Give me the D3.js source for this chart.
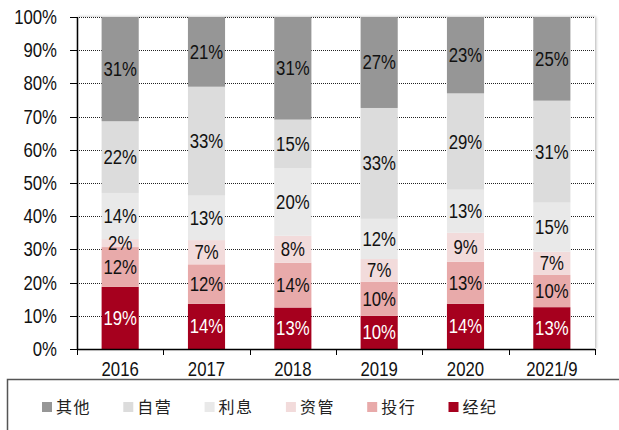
<!DOCTYPE html>
<html>
<head>
<meta charset="utf-8">
<script src="https://cdn.jsdelivr.net/npm/d3@7"></script>
<style>
  body { margin: 0; background: #fff; }
  svg { display: block; }
</style>
</head>
<body>
<svg id="chart" width="619" height="430"></svg>
<script>
const years = ['2016', '2017', '2018', '2019', '2020', '2021/9'];
// shares in %, bottom to top
const jingji = [18.7, 13.6, 12.5, 10.0, 13.6, 12.6];  // 经纪
const touhang = [12.0, 11.9, 13.5, 10.3, 12.7, 9.7];  // 投行
const ziguan = [2.4, 7.3, 8.1, 6.8, 8.7, 7.0];        // 资管
const lixi = [13.9, 13.4, 20.4, 12.1, 13.0, 14.8];    // 利息
const ziying = [21.6, 32.8, 14.6, 33.4, 29.0, 30.7];  // 自营
const qita = [31.4, 21.0, 30.9, 27.4, 23.0, 25.2];    // 其他
const yTicks = [0, 10, 20, 30, 40, 50, 60, 70, 80, 90, 100];

const series = [
  { name: '经纪', values: jingji, color: '#a6001e', text: '#fff' },
  { name: '投行', values: touhang, color: '#e8aaaa', text: '#111' },
  { name: '资管', values: ziguan, color: '#f2dbdb', text: '#111' },
  { name: '利息', values: lixi, color: '#e9e9e9', text: '#111' },
  { name: '自营', values: ziying, color: '#dcdcdc', text: '#111' },
  { name: '其他', values: qita, color: '#969696', text: '#111' }
];
const legendOrder = ['其他', '自营', '利息', '资管', '投行', '经纪'];

const plotLeft = 77, plotRight = 595, plotTop = 17, plotBottom = 349;
const font = 'Arial, "Liberation Sans", sans-serif';
const sx = 0.86; // text looks horizontally squeezed

const svg = d3.select('#chart');

const defs = svg.append('defs');
const shadow = defs.append('filter').attr('id', 'shadow')
  .attr('x', '-5%').attr('y', '-5%').attr('width', '110%').attr('height', '110%');
shadow.append('feDropShadow')
  .attr('dx', 1).attr('dy', 0).attr('stdDeviation', 1.5)
  .attr('flood-color', '#000').attr('flood-opacity', 0.3);

const x = d3.scaleBand().domain(years).range([plotLeft, plotRight])
  .paddingInner(0.57).paddingOuter(0.285);
const y = d3.scaleLinear().domain([0, 100]).range([plotBottom, plotTop]);

// plot area with soft shadow
svg.append('rect')
  .attr('x', plotLeft).attr('y', plotTop)
  .attr('width', plotRight - plotLeft).attr('height', plotBottom - plotTop)
  .attr('fill', '#fff')
  .attr('filter', 'url(#shadow)');

// gridlines
svg.append('g')
  .selectAll('line')
  .data(yTicks.filter(d => d > 0))
  .join('line')
  .attr('x1', plotLeft).attr('x2', plotRight)
  .attr('y1', d => Math.round(y(d)) + 0.5).attr('y2', d => Math.round(y(d)) + 0.5)
  .attr('stroke', '#222')
  .attr('stroke-width', 1)
  .attr('stroke-dasharray', '1,1');

// stacked bars
const stacked = [];
years.forEach((yr, i) => {
  let base = 0;
  series.forEach(s => {
    const v = s.values[i];
    stacked.push({ year: yr, y0: base, y1: base + v, v, s });
    base += v;
  });
});

svg.append('g')
  .selectAll('rect')
  .data(stacked)
  .join('rect')
  .attr('x', d => x(d.year))
  .attr('width', x.bandwidth())
  .attr('y', d => y(d.y1))
  .attr('height', d => y(d.y0) - y(d.y1))
  .attr('fill', d => d.s.color);

svg.append('g')
  .selectAll('text')
  .data(stacked)
  .join('text')
  .attr('transform', d => `translate(${x(d.year) + x.bandwidth() / 2},${(y(d.y0) + y(d.y1)) / 2 + 7}) scale(${sx},1)`)
  .attr('text-anchor', 'middle')
  .attr('font-family', font)
  .attr('font-size', 19.5)
  .attr('fill', d => d.s.text)
  .text(d => Math.round(d.v) + '%');

// y axis
const yAxis = svg.append('g');
yAxis.append('line')
  .attr('x1', plotLeft + 0.5).attr('x2', plotLeft + 0.5)
  .attr('y1', plotTop).attr('y2', plotBottom)
  .attr('stroke', '#000').attr('stroke-width', 1.5);
yAxis.selectAll('line.tick')
  .data(yTicks)
  .join('line')
  .attr('class', 'tick')
  .attr('x1', plotLeft - 7).attr('x2', plotLeft)
  .attr('y1', d => Math.round(y(d)) + 0.5).attr('y2', d => Math.round(y(d)) + 0.5)
  .attr('stroke', '#000');
yAxis.selectAll('text')
  .data(yTicks)
  .join('text')
  .attr('transform', d => `translate(57,${y(d) + 7}) scale(${sx},1)`)
  .attr('text-anchor', 'end')
  .attr('font-family', font)
  .attr('font-size', 19.5)
  .attr('fill', '#111')
  .text(d => d + '%');

// x axis
const xAxis = svg.append('g');
xAxis.append('line')
  .attr('x1', plotLeft).attr('x2', plotRight)
  .attr('y1', plotBottom + 0.5).attr('y2', plotBottom + 0.5)
  .attr('stroke', '#000').attr('stroke-width', 1.5);
const bounds = years.map(d => x(d) - x.step() * x.paddingInner() / 2).concat([plotRight]);
xAxis.selectAll('line.tick')
  .data(bounds)
  .join('line')
  .attr('class', 'tick')
  .attr('x1', d => Math.round(d) + 0.5).attr('x2', d => Math.round(d) + 0.5)
  .attr('y1', plotBottom).attr('y2', plotBottom + 6)
  .attr('stroke', '#000');
xAxis.selectAll('text')
  .data(years)
  .join('text')
  .attr('transform', d => `translate(${x(d) + x.bandwidth() / 2},376) scale(${sx},1)`)
  .attr('text-anchor', 'middle')
  .attr('font-family', font)
  .attr('font-size', 19.5)
  .attr('fill', '#111')
  .text(d => d);

// legend box
svg.append('path')
  .attr('d', 'M7.5,432V379.5H625')
  .attr('fill', 'none')
  .attr('stroke', '#555')
  .attr('stroke-width', 1.5);

const legend = svg.append('g')
  .selectAll('g')
  .data(legendOrder.map(n => series.find(s => s.name === n)))
  .join('g')
  .attr('transform', (d, i) => `translate(${42 + i * 81.3},0)`);
legend.append('rect')
  .attr('x', 0).attr('y', 402)
  .attr('width', 10).attr('height', 10)
  .attr('fill', d => d.color);
legend.append('text')
  .attr('x', 14).attr('y', 412.5)
  .attr('font-family', '"Noto Sans CJK SC", sans-serif')
  .attr('font-size', 16)
  .attr('letter-spacing', 1.5)
  .attr('fill', '#222')
  .text(d => d.name);
</script>
</body>
</html>
